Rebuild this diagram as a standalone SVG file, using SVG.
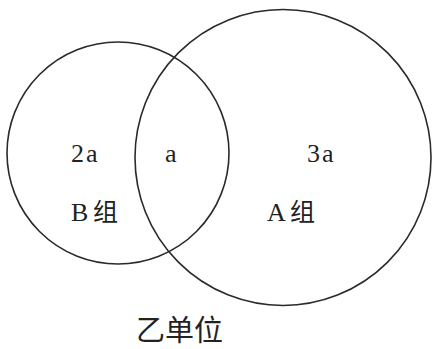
<svg xmlns="http://www.w3.org/2000/svg" width="432" height="349" viewBox="0 0 432 349">
<style>
.c{fill:none;stroke:#2a2a2a;stroke-width:1.6}
.t{font-family:"Liberation Serif","DejaVu Serif",serif;font-size:26px;fill:#222;letter-spacing:2px}
.cj{font-family:"Noto Sans CJK SC",sans-serif;fill:#222}
</style>
<rect width="432" height="349" fill="#fff"/>
<g id="groupB">
<circle class="c" cx="118" cy="153" r="111"/>
<text class="t" x="71" y="162">2a</text>
<text class="t" x="71" y="221">B</text>
<text class="cj" x="93" y="221" font-size="25">组</text>
</g>
<g id="groupA">
<circle class="c" cx="283" cy="157.5" r="148"/>
<text class="t" x="307" y="162">3a</text>
<text class="t" x="267" y="221">A</text>
<text class="cj" x="290" y="221" font-size="25">组</text>
</g>
<g id="overlap">
<text class="t" x="165" y="162">a</text>
</g>
<g id="connectors"></g>
<text class="cj" x="136" y="341" font-size="29">乙单位</text>
</svg>
